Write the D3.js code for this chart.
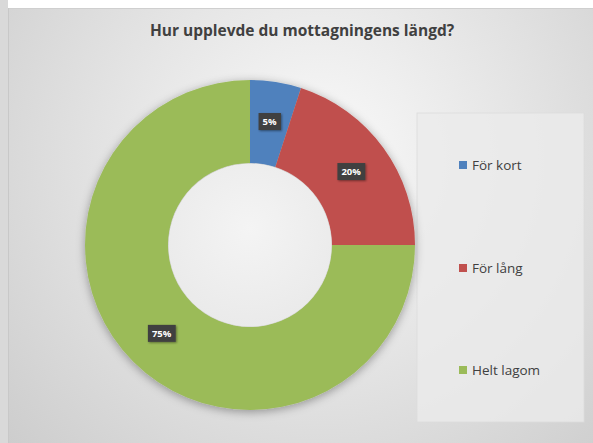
<!DOCTYPE html>
<html><head><meta charset="utf-8">
<script src="https://cdn.jsdelivr.net/npm/d3@7"></script>
<style>html,body{margin:0;padding:0;background:#fff;}svg{display:block;}</style>
</head><body>
<script>
const title = "Hur upplevde du mottagningens längd?";
const categories = ["För kort", "För lång", "Helt lagom"];
const values = [5, 20, 75];
const labels = ["5%", "20%", "75%"];
const colors = ["#4F81BD", "#C0504D", "#9BBB59"];

const W = 593, H = 443;
const svg = d3.select("body").append("svg").attr("width", W).attr("height", H);
const defs = svg.append("defs");

const bg = defs.append("radialGradient").attr("id", "bg")
  .attr("gradientUnits", "userSpaceOnUse")
  .attr("cx", 320).attr("cy", 160).attr("r", 420);
bg.append("stop").attr("offset", "0%").attr("stop-color", "#fafafa");
bg.append("stop").attr("offset", "45%").attr("stop-color", "#e6e6e6");
bg.append("stop").attr("offset", "100%").attr("stop-color", "#cdcdcd");

const sh = defs.append("filter").attr("id", "shadow").attr("x", "-20%").attr("y", "-20%").attr("width", "140%").attr("height", "140%");
sh.append("feDropShadow").attr("dx", 0).attr("dy", 2).attr("stdDeviation", 5).attr("flood-color", "#000").attr("flood-opacity", 0.35);

const lsh = defs.append("filter").attr("id", "lshadow").attr("x", "-30%").attr("y", "-30%").attr("width", "160%").attr("height", "160%");
lsh.append("feDropShadow").attr("dx", 1).attr("dy", 1).attr("stdDeviation", 1).attr("flood-color", "#000").attr("flood-opacity", 0.4);

// frame
svg.append("rect").attr("x", 0).attr("y", 0).attr("width", 8).attr("height", H).attr("fill", "#d9d9d9");
svg.append("rect").attr("x", 8).attr("y", 8).attr("width", W - 8).attr("height", H - 8).attr("fill", "url(#bg)");
svg.append("line").attr("x1", 8).attr("x2", W).attr("y1", 8.5).attr("y2", 8.5).attr("stroke", "#cfcfcf");
svg.append("line").attr("x1", 8.5).attr("x2", 8.5).attr("y1", 8).attr("y2", H).attr("stroke", "#c8c8c8");

// title
svg.append("text").attr("x", 302).attr("y", 36).attr("text-anchor", "middle")
  .attr("font-family", "'Open Sans', sans-serif").attr("font-weight", "bold").attr("font-size", 15.5)
  .attr("fill", "#404040").text(title);

// legend box
svg.append("rect").attr("x", 417).attr("y", 113).attr("width", 167).attr("height", 309)
  .attr("fill", "#ebebeb").attr("fill-opacity", 0.8).attr("stroke", "#dcdcdc").attr("stroke-width", 0.8);

// donut
const cx = 250, cy = 245, R = 165, r = 82;
const pie = d3.pie().sort(null).value(d => d);
const arcs = pie(values);
const arc = d3.arc().innerRadius(r).outerRadius(R);
const labelArc = d3.arc().innerRadius(86).outerRadius(164);
const g = svg.append("g").attr("transform", `translate(${cx},${cy})`);
const ring = g.append("g").attr("filter", "url(#shadow)");
ring.selectAll("path").data(arcs).join("path").attr("d", arc).attr("fill", (d, i) => colors[i]);

const hole = defs.append("radialGradient").attr("id", "hole").attr("cx", "50%").attr("cy", "40%").attr("r", "60%");
hole.append("stop").attr("offset", "0%").attr("stop-color", "#f4f4f4");
hole.append("stop").attr("offset", "100%").attr("stop-color", "#eaeaea");
g.append("circle").attr("r", r - 0.5).attr("fill", "url(#hole)");

// data labels
const lab = g.selectAll("g.lab").data(arcs).join("g").attr("class", "lab")
  .attr("transform", d => `translate(${labelArc.centroid(d)})`);
lab.each(function(d, i) {
  const s = d3.select(this);
  const t = s.append("text").attr("text-anchor", "middle").attr("dy", "0.35em")
    .attr("font-family", "'Open Sans', sans-serif").attr("font-weight", "bold").attr("font-size", 9.5)
    .attr("fill", "#fff").text(labels[i]);
  const bb = t.node().getBBox();
  s.insert("rect", "text").attr("x", bb.x - 4).attr("y", -8.5).attr("width", bb.width + 8).attr("height", 17)
    .attr("fill", "#404040").attr("filter", "url(#lshadow)");
});

// legend
const ly = [165, 268, 370];
const leg = svg.selectAll("g.leg").data(categories).join("g").attr("class", "leg")
  .attr("transform", (d, i) => `translate(459,${ly[i]})`);
leg.append("rect").attr("x", 0).attr("y", -4).attr("width", 8).attr("height", 8).attr("fill", (d, i) => colors[i]);
leg.append("text").attr("x", 13).attr("dy", "0.35em").attr("font-family", "'Open Sans', sans-serif")
  .attr("font-size", 13.5).attr("fill", "#404040").text(d => d);
</script>
</body></html>
